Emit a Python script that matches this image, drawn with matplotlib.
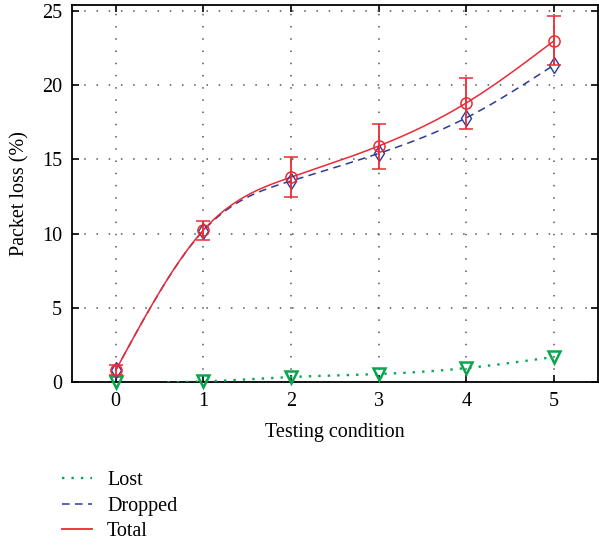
import numpy as np
import matplotlib.pyplot as plt
from matplotlib.lines import Line2D

# data
conditions = [0, 1, 2, 3, 4, 5]
lost = [0.0, 0.05, 0.35, 0.55, 0.95, 1.7]
dropped = [0.8, 10.2, 13.55, 15.4, 17.8, 21.35]
total = [0.8, 10.24, 13.8, 15.9, 18.8, 22.98]
total_err_low = [0.33, 0.67, 1.3, 1.55, 1.75, 1.62]
total_err_high = [0.35, 0.61, 1.35, 1.5, 1.7, 1.68]

RED = '#ec2a33'
BLUE = '#2b3a9a'
GREEN = '#0aa64f'


def natural_spline(x, y, xs):
    # plain natural cubic spline, just to draw smooth lines through the points
    x = np.asarray(x, float)
    y = np.asarray(y, float)
    n = len(x)
    h = np.diff(x)
    A = np.zeros((n, n))
    b = np.zeros(n)
    A[0, 0] = A[-1, -1] = 1
    for i in range(1, n - 1):
        A[i, i - 1] = h[i - 1]
        A[i, i] = 2 * (h[i - 1] + h[i])
        A[i, i + 1] = h[i]
        b[i] = 3 * ((y[i + 1] - y[i]) / h[i] - (y[i] - y[i - 1]) / h[i - 1])
    c = np.linalg.solve(A, b)
    out = np.empty_like(xs)
    for k, xv in enumerate(xs):
        i = min(max(np.searchsorted(x, xv) - 1, 0), n - 2)
        dx = xv - x[i]
        bi = (y[i + 1] - y[i]) / h[i] - h[i] * (2 * c[i] + c[i + 1]) / 3
        di = (c[i + 1] - c[i]) / (3 * h[i])
        out[k] = y[i] + bi * dx + c[i] * dx ** 2 + di * dx ** 3
    return out


plt.rcParams['font.family'] = ['Liberation Serif', 'DejaVu Serif']
FS = 14.5

fig = plt.figure(figsize=(5.99, 5.46), dpi=100)
ax = fig.add_axes([0.120, 0.300, 0.878, 0.691])

xs = np.linspace(0, 5, 400)

# Lost: smooth dotted line, hidden where the spline dips below zero
ls = natural_spline(conditions, lost, xs)
ls = np.where(ls < 0, np.nan, ls)
ax.plot(xs, ls, linestyle=(0, (1, 3)), color=GREEN, lw=1.7, zorder=3)
ax.plot(conditions, lost, linestyle='none', marker='v', ms=9, mfc='none',
        mec=GREEN, mew=1.8, zorder=4, clip_on=False)

ax.plot(xs, natural_spline(conditions, dropped, xs), linestyle=(0, (5, 3.5)),
        color=BLUE, lw=1.1, zorder=3)
ax.plot(conditions, dropped, linestyle='none', marker='d', ms=8, mfc='none',
        mec=BLUE, mew=1.0, zorder=4)

ax.plot(xs, natural_spline(conditions, total, xs), '-', color=RED, lw=1.1, zorder=3)
ax.errorbar(conditions, total, yerr=[total_err_low, total_err_high], fmt='o',
            ms=8, mfc='none', mec=RED, mew=1.1, ecolor=RED, elinewidth=1.3,
            capsize=5, capthick=1.3, zorder=5)

ax.set_xlim(-0.5, 5.5)
ax.set_ylim(0, 25.4)
ax.set_xticks(conditions)
ax.set_yticks([0, 5, 10, 15, 20, 25])
ax.tick_params(direction='in', top=True, right=True, length=5, width=1.2,
               labelsize=FS, pad=7)
for s in ax.spines.values():
    s.set_linewidth(1.3)
ax.grid(True, color='#555555', linestyle=(0, (1, 7)), lw=1.1)
ax.set_axisbelow(True)

ax.set_xlabel('Testing condition', fontsize=FS, labelpad=9)
ax.set_ylabel('Packet loss (%)', fontsize=FS, labelpad=9)

handles = [Line2D([], [], color=GREEN, linestyle=(0, (1, 3)), lw=1.7),
           Line2D([], [], color=BLUE, linestyle=(0, (5, 3.5)), lw=1.1),
           Line2D([], [], color=RED, linestyle='-', lw=1.3)]
fig.legend(handles, ['Lost', 'Dropped', 'Total'], loc='upper left',
           bbox_to_anchor=(0.103, 0.137), frameon=False, fontsize=FS,
           handlelength=1.5, handletextpad=0.75, labelspacing=0.32,
           borderpad=0, borderaxespad=0)

fig.savefig('out.png', dpi=100)
